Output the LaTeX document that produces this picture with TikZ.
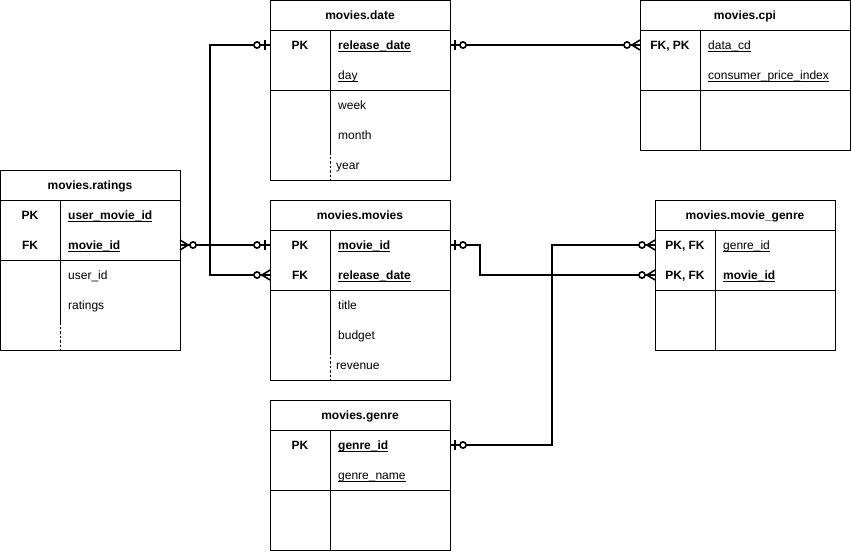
\documentclass[tikz,border=0pt]{standalone}
\usepackage{fontspec}
\setmainfont{Liberation Sans}
\newcommand\ulbox[1]{\setbox0=\hbox{#1}\rlap{\vrule height -1.2pt depth 2.2pt width \wd0}\box0}
\begin{document}
\begin{tikzpicture}[x=1pt,y=-1pt,
  font=\fontsize{12}{14}\selectfont,
  tbl/.style={draw=black, line width=1pt, inner sep=0pt, outer sep=0pt},
  rule/.style={line width=1pt},
  dashrule/.style={line width=1pt, dash pattern=on 2.5pt off 2pt},
  rowbox/.style={inner sep=0pt, outer sep=0pt, minimum height=30pt},
  ttl/.style={font=\fontsize{12}{14}\selectfont\bfseries, anchor=base, inner sep=0pt, yshift=-0.8pt},
  key/.style={font=\fontsize{12}{14}\selectfont\bfseries, anchor=base, inner sep=0pt, yshift=-0.8pt},
  fld/.style={anchor=base west, inner sep=0pt, yshift=-0.8pt},
  conn/.style={line width=1.8pt, line join=miter},
  pics/one0/.style={code={
    \draw[line width=1.8pt] (5,-5) -- (5,5);
    \draw[line width=1.6pt, fill=white] (13,0) circle (3.1pt);}},
  pics/many0/.style={code={
    \draw[line width=1.6pt] (0,-5) -- (8,0) -- (0,5);
    \draw[line width=1.6pt, fill=white] (13,0) circle (3.1pt);}}
]
\fill[white] (0,0) rectangle (852,552);
\useasboundingbox (0,0) rectangle (852,552);

% ---------- movies.date ----------
\node[tbl, minimum width=180pt, minimum height=180pt] (date) at (360,90) {};
\draw[rule] (270,30) -- (450,30) (270,90) -- (450,90) (330,30) -- (330,152);
\draw[dashrule] (330,152) -- (330,180);
\node[ttl] (date-t) at (360,18.7) {movies.date};
\node[rowbox, minimum width=180pt] (date-rd) at (360,45) {};
\node[key] (date-k1) at (300,48.7) {PK};
\node[fld] (date-f1) at (338,48.7) {\ulbox{\bfseries release\_date}};
\node[fld] (date-f2) at (338,78.7) {\ulbox{day}};
\node[fld] (date-f3) at (338,108.7) {week};
\node[fld] (date-f4) at (338,138.7) {month};
\node[fld] (date-f5) at (336,168.7) {year};

% ---------- movies.cpi ----------
\node[tbl, minimum width=210pt, minimum height=150pt] (cpi) at (745,75) {};
\draw[rule] (640,30) -- (850,30) (640,90) -- (850,90) (700,30) -- (700,150);
\node[ttl] (cpi-t) at (745,18.7) {movies.cpi};
\node[rowbox, minimum width=210pt] (cpi-r1) at (745,45) {};
\node[key] (cpi-k1) at (670,48.7) {FK, PK};
\node[fld] (cpi-f1) at (708,48.7) {\ulbox{data\_cd}};
\node[fld] (cpi-f2) at (708,78.7) {\ulbox{consumer\_price\_index}};

% ---------- movies.ratings ----------
\node[tbl, minimum width=180pt, minimum height=180pt] (rat) at (90,260) {};
\draw[rule] (0,200) -- (180,200) (0,260) -- (180,260) (60,200) -- (60,322);
\draw[dashrule] (60,322) -- (60,350);
\node[ttl] (rat-t) at (90,188.7) {movies.ratings};
\node[rowbox, minimum width=180pt] (rat-mid) at (90,245) {};
\node[key] (rat-k1) at (30,218.7) {PK};
\node[key] (rat-k2) at (30,248.7) {FK};
\node[fld] (rat-f1) at (68,218.7) {\ulbox{\bfseries user\_movie\_id}};
\node[fld] (rat-f2) at (68,248.7) {\ulbox{\bfseries movie\_id}};
\node[fld] (rat-f3) at (68,278.7) {user\_id};
\node[fld] (rat-f4) at (68,308.7) {ratings};

% ---------- movies.movies ----------
\node[tbl, minimum width=180pt, minimum height=180pt] (mov) at (360,290) {};
\draw[rule] (270,230) -- (450,230) (270,290) -- (450,290) (330,230) -- (330,352);
\draw[dashrule] (330,352) -- (330,380);
\node[ttl] (mov-t) at (360,218.7) {movies.movies};
\node[rowbox, minimum width=180pt] (mov-mid) at (360,245) {};
\node[rowbox, minimum width=180pt] (mov-rd) at (360,275) {};
\node[key] (mov-k1) at (300,248.7) {PK};
\node[key] (mov-k2) at (300,278.7) {FK};
\node[fld] (mov-f1) at (338,248.7) {\ulbox{\bfseries movie\_id}};
\node[fld] (mov-f2) at (338,278.7) {\ulbox{\bfseries release\_date}};
\node[fld] (mov-f3) at (338,308.7) {title};
\node[fld] (mov-f4) at (338,338.7) {budget};
\node[fld] (mov-f5) at (336,368.7) {revenue};

% ---------- movies.genre ----------
\node[tbl, minimum width=180pt, minimum height=150pt] (gen) at (360,475) {};
\draw[rule] (270,430) -- (450,430) (270,490) -- (450,490) (330,430) -- (330,550);
\node[ttl] (gen-t) at (360,418.7) {movies.genre};
\node[rowbox, minimum width=180pt] (gen-gid) at (360,445) {};
\node[key] (gen-k1) at (300,448.7) {PK};
\node[fld] (gen-f1) at (338,448.7) {\ulbox{\bfseries genre\_id}};
\node[fld] (gen-f2) at (338,478.7) {\ulbox{genre\_name}};

% ---------- movies.movie_genre ----------
\node[tbl, minimum width=180pt, minimum height=150pt] (mg) at (745,275) {};
\draw[rule] (655,230) -- (835,230) (655,290) -- (835,290) (715,230) -- (715,350);
\node[ttl] (mg-t) at (745,218.7) {movies.movie\_genre};
\node[rowbox, minimum width=180pt] (mg-gid) at (745,245) {};
\node[rowbox, minimum width=180pt] (mg-mid) at (745,275) {};
\node[key] (mg-k1) at (685,248.7) {PK, FK};
\node[key] (mg-k2) at (685,278.7) {PK, FK};
\node[fld] (mg-f1) at (723,248.7) {\ulbox{genre\_id}};
\node[fld] (mg-f2) at (723,278.7) {\ulbox{\bfseries movie\_id}};

% ---------- connectors ----------
\draw[conn] (rat-mid.east) -- (mov-mid.west);
\draw[conn] (mov-rd.west) -- ++(-60,0) |- (date-rd.west);
\draw[conn] (date-rd.east) -- (cpi-r1.west);
\draw[conn] (mov-mid.east) -- ++(30,0) |- (mg-mid.west);
\draw[conn] (gen-gid.east) -- ++(102,0) |- (mg-gid.west);

% ---------- ends ----------
\pic at (rat-mid.east) {many0};
\pic[rotate=180] at (mov-mid.west) {one0};
\pic[rotate=180] at (mov-rd.west) {many0};
\pic[rotate=180] at (date-rd.west) {one0};
\pic at (date-rd.east) {one0};
\pic[rotate=180] at (cpi-r1.west) {many0};
\pic at (mov-mid.east) {one0};
\pic[rotate=180] at (mg-mid.west) {many0};
\pic at (gen-gid.east) {one0};
\pic[rotate=180] at (mg-gid.west) {many0};
\end{tikzpicture}
\end{document}
